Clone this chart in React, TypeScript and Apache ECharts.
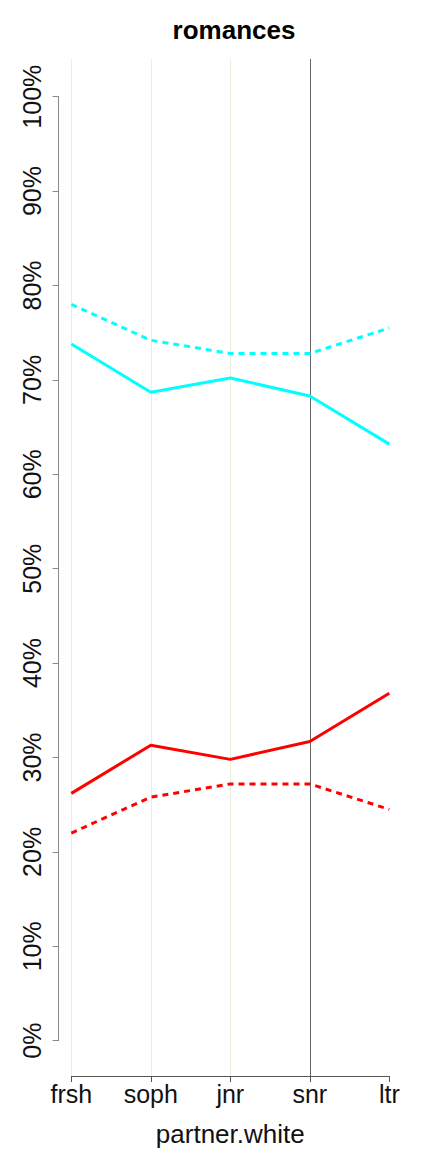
import React, { useEffect, useRef } from "react";
import * as echarts from "echarts";

const categories = ["frsh", "soph", "jnr", "snr", "ltr"];
const cyanDashed = [78.0, 74.2, 72.8, 72.8, 75.5];
const cyanSolid = [73.8, 68.7, 70.2, 68.3, 63.2];
const redSolid = [26.2, 31.3, 29.8, 31.7, 36.8];
const redDashed = [22.0, 25.8, 27.2, 27.2, 24.5];
const yTicks = [0, 10, 20, 30, 40, 50, 60, 70, 80, 90, 100];

const FONT = "'Liberation Sans', Arial, Helvetica, sans-serif";

export default function App() {
  const ref = useRef<HTMLDivElement>(null);
  useEffect(() => {
    if (!ref.current) return;
    const chart = echarts.init(ref.current, null, { renderer: "svg" });
    const plotLeft = 71.3;
    const plotRight = 432 - 389.3;
    chart.setOption({
      animation: false,
      backgroundColor: "#ffffff",
      textStyle: { fontFamily: FONT },
      title: {
        text: "romances",
        left: 229,
        textAlign: "center",
        top: 12,
        textStyle: { fontFamily: FONT, fontWeight: "bold", fontSize: 26, color: "#000" },
      },
      grid: [
        { left: plotLeft, right: plotRight, top: 59, bottom: 73.5 },
        { left: plotLeft, right: plotRight, top: 96.7, bottom: 111.3 },
      ],
      xAxis: [
        {
          gridIndex: 0,
          type: "category",
          data: categories,
          boundaryGap: false,
          axisLine: { show: true, onZero: false, lineStyle: { color: "#555", width: 1 } },
          axisTick: { show: true, length: 6, lineStyle: { color: "#555" } },
          axisLabel: { fontFamily: FONT, fontSize: 25, color: "#111", margin: 5 },
          splitLine: {
            show: true,
            lineStyle: { color: ["#f0ecdc", "#f0ecdc", "#f0ecdc", "#666", "rgba(0,0,0,0)"], width: 1 },
          },
          name: "partner.white",
          nameLocation: "middle",
          nameGap: 45,
          nameTextStyle: { fontFamily: FONT, fontSize: 26, color: "#111" },
        },
        {
          gridIndex: 1,
          type: "category",
          data: categories,
          boundaryGap: false,
          show: false,
        },
      ],
      yAxis: [
        {
          gridIndex: 0,
          type: "value",
          min: -4,
          max: 104,
          show: false,
          splitLine: { show: false },
        },
        {
          gridIndex: 1,
          type: "value",
          min: yTicks[0],
          max: yTicks[yTicks.length - 1],
          interval: 10,
          offset: 12.7,
          axisLine: { show: true, lineStyle: { color: "#888", width: 1 } },
          axisTick: { show: true, length: 6, lineStyle: { color: "#888" } },
          axisLabel: {
            rotate: 90,
            fontFamily: FONT,
            fontSize: 25,
            color: "#111",
            margin: 14,
            formatter: "{value}%",
          },
          splitLine: { show: false },
        },
      ],
      series: [
        {
          type: "line",
          xAxisIndex: 1,
          yAxisIndex: 1,
          data: cyanDashed,
          symbol: "none",
          lineStyle: { color: "#00ffff", width: 3, type: [6, 5] },
        },
        {
          type: "line",
          xAxisIndex: 1,
          yAxisIndex: 1,
          data: cyanSolid,
          symbol: "none",
          lineStyle: { color: "#00ffff", width: 3 },
        },
        {
          type: "line",
          xAxisIndex: 1,
          yAxisIndex: 1,
          data: redSolid,
          symbol: "none",
          lineStyle: { color: "#ff0000", width: 3 },
        },
        {
          type: "line",
          xAxisIndex: 1,
          yAxisIndex: 1,
          data: redDashed,
          symbol: "none",
          lineStyle: { color: "#ff0000", width: 3, type: [6, 5] },
        },
      ],
    });
    return () => chart.dispose();
  }, []);
  return (
    <div
      ref={ref}
      style={{ position: "absolute", left: 0, top: 0, width: 432, height: 1152 }}
    />
  );
}
